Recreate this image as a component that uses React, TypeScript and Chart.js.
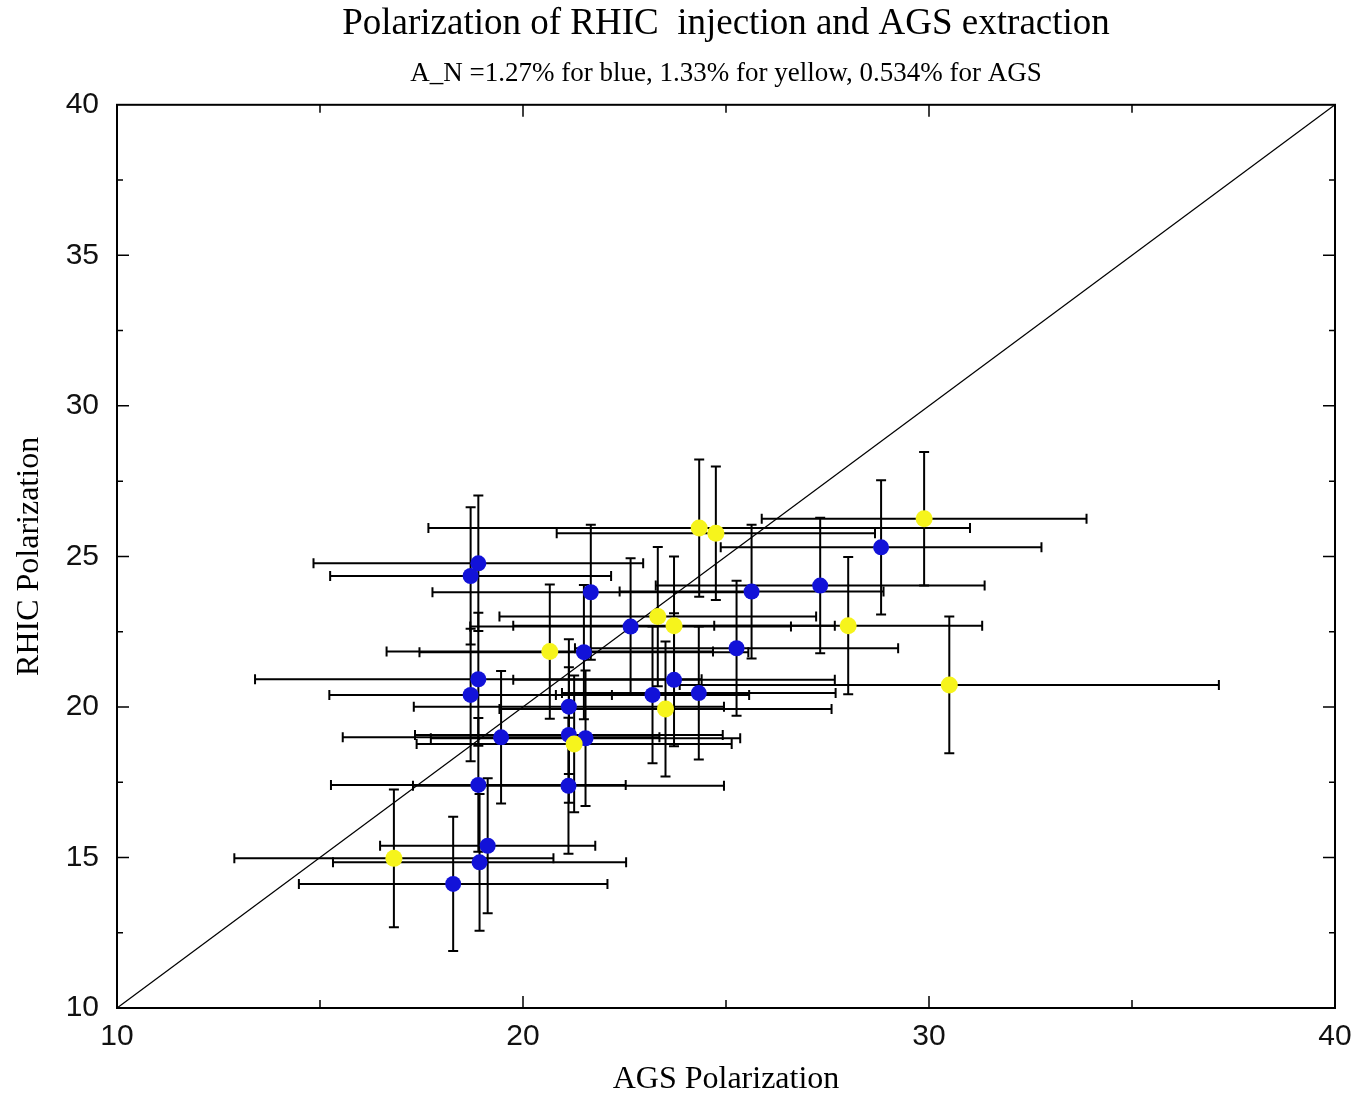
import React, { useEffect, useRef } from "react";
import { Chart, registerables } from "chart.js";

Chart.register(...registerables);

// ---- texts ----
const titleText = "Polarization of RHIC  injection and AGS extraction";
const subtitleText = "A_N =1.27% for blue, 1.33% for yellow, 0.534% for AGS";
const xAxisTitle = "AGS Polarization";
const yAxisTitle = "RHIC Polarization";

// ---- axes ----
const xMin = 10;
const xMax = 40;
const yMin = 10;
const yMax = 40;
const xLabelTicks = [10, 20, 30, 40];
const yLabelTicks = [10, 15, 20, 25, 30, 35, 40];

// ---- blue ring ----
const blueX = [18.9, 18.71, 21.67, 22.65, 21.5, 18.9, 18.71, 23.72, 23.19, 21.13, 19.46, 21.13, 21.54, 18.9, 21.12, 19.13, 18.93, 18.28, 28.82, 25.63, 27.32, 25.26, 24.33];
const blueY = [24.77, 24.35, 23.81, 22.67, 21.82, 20.92, 20.4, 20.9, 20.4, 20.01, 18.99, 19.07, 18.96, 17.41, 17.38, 15.39, 14.84, 14.12, 25.3, 23.83, 24.03, 21.95, 20.46];
const blueXErr = [4.06, 3.46, 3.9, 3.95, 4.05, 5.5, 3.48, 3.96, 2.38, 3.82, 3.9, 3.79, 3.81, 3.63, 3.83, 2.65, 3.61, 3.8, 3.95, 3.25, 4.05, 3.98, 3.37];
const blueYErr = [2.25, 2.28, 2.24, 2.27, 2.23, 2.21, 2.2, 2.21, 2.27, 2.24, 2.2, 2.25, 2.25, 2.22, 2.26, 2.24, 2.27, 2.23, 2.23, 2.22, 2.25, 2.24, 2.21];

// ---- yellow ring ----
const yellowX = [24.34, 24.75, 29.88, 28.01, 23.32, 23.72, 20.66, 23.51, 21.26, 16.82, 30.5];
const yellowY = [25.94, 25.77, 26.25, 22.7, 23.0, 22.7, 21.84, 19.93, 18.77, 14.97, 20.73];
const yellowXErr = [6.67, 3.92, 4.0, 3.3, 3.9, 3.96, 4.02, 4.09, 3.88, 3.93, 6.64];
const yellowYErr = [2.28, 2.22, 2.22, 2.28, 2.31, 2.3, 2.23, 2.24, 2.27, 2.29, 2.27];

// ---- diagonal y = x ----
const diagX = [10, 40];
const diagY = [10, 40];

const toPoints = (xs: number[], ys: number[]) => xs.map((x, i) => ({ x, y: ys[i] }));

const errorBarPlugin = {
  id: "errorBars",
  beforeDatasetsDraw(chart: any) {
    const { ctx, scales } = chart;
    const xs = scales.x;
    const ys = scales.y;
    ctx.save();
    ctx.strokeStyle = "#000";
    ctx.lineWidth = 2;
    const cap = 5;
    chart.data.datasets.forEach((ds: any) => {
      if (!ds.xErr) return;
      ds.data.forEach((p: any, i: number) => {
        const cx = xs.getPixelForValue(p.x);
        const cy = ys.getPixelForValue(p.y);
        const x1 = xs.getPixelForValue(p.x - ds.xErr[i]);
        const x2 = xs.getPixelForValue(p.x + ds.xErr[i]);
        const y1 = ys.getPixelForValue(p.y - ds.yErr[i]);
        const y2 = ys.getPixelForValue(p.y + ds.yErr[i]);
        ctx.beginPath();
        ctx.moveTo(x1, cy);
        ctx.lineTo(x2, cy);
        ctx.moveTo(x1, cy - cap);
        ctx.lineTo(x1, cy + cap);
        ctx.moveTo(x2, cy - cap);
        ctx.lineTo(x2, cy + cap);
        ctx.moveTo(cx, y1);
        ctx.lineTo(cx, y2);
        ctx.moveTo(cx - cap, y1);
        ctx.lineTo(cx + cap, y1);
        ctx.moveTo(cx - cap, y2);
        ctx.lineTo(cx + cap, y2);
        ctx.stroke();
      });
    });
    ctx.restore();
  },
};

const framePlugin = {
  id: "frameTicks",
  afterDatasetsDraw(chart: any) {
    const { ctx, chartArea, scales } = chart;
    const { left, right, top, bottom } = chartArea;
    ctx.save();
    ctx.strokeStyle = "#000";
    ctx.lineWidth = 1.5;
    ctx.beginPath();
    scales.x.ticks.forEach((t: any) => {
      if (t.value <= xMin || t.value >= xMax) return;
      const px = scales.x.getPixelForValue(t.value);
      const len = xLabelTicks.includes(t.value) ? 12 : 8;
      ctx.moveTo(px, bottom);
      ctx.lineTo(px, bottom - len);
      ctx.moveTo(px, top);
      ctx.lineTo(px, top + len);
    });
    scales.y.ticks.forEach((t: any) => {
      if (t.value <= yMin || t.value >= yMax) return;
      const py = scales.y.getPixelForValue(t.value);
      const len = yLabelTicks.includes(t.value) ? 12 : 6;
      ctx.moveTo(left, py);
      ctx.lineTo(left + len, py);
      ctx.moveTo(right, py);
      ctx.lineTo(right - len, py);
    });
    ctx.stroke();
    ctx.lineWidth = 2;
    ctx.strokeRect(left, top, right - left, bottom - top);
    ctx.restore();
  },
};

export default function App() {
  const canvasRef = useRef<HTMLCanvasElement | null>(null);

  useEffect(() => {
    const canvas = canvasRef.current;
    if (!canvas) return;
    const chart = new Chart(canvas, {
      type: "scatter",
      data: {
        datasets: [
          {
            label: "yellow",
            data: toPoints(yellowX, yellowY),
            xErr: yellowXErr,
            yErr: yellowYErr,
            pointRadius: 8.5,
            pointBackgroundColor: "#f6f41c",
            pointBorderWidth: 0,
            borderWidth: 0,
          } as any,
          {
            label: "blue",
            data: toPoints(blueX, blueY),
            xErr: blueXErr,
            yErr: blueYErr,
            pointRadius: 8,
            pointBackgroundColor: "#1212d8",
            pointBorderWidth: 0,
            borderWidth: 0,
          } as any,
          {
            type: "line",
            label: "diagonal",
            data: toPoints(diagX, diagY),
            borderColor: "#000",
            borderWidth: 1.3,
            pointRadius: 0,
            fill: false,
          } as any,
        ],
      },
      options: {
        animation: false,
        responsive: true,
        maintainAspectRatio: false,
        layout: { padding: { top: 0, right: 31, bottom: 0, left: 0 } },
        plugins: {
          legend: { display: false },
          tooltip: { enabled: false },
          title: {
            display: true,
            text: titleText,
            fullSize: false,
            color: "#000",
            font: { family: "'Liberation Serif', serif", size: 37, weight: "normal", lineHeight: 1.2 },
            padding: { top: 2, bottom: 8 },
          },
          subtitle: {
            display: true,
            text: subtitleText,
            fullSize: false,
            color: "#000",
            font: { family: "'Liberation Serif', serif", size: 27, weight: "normal", lineHeight: 1.2 },
            padding: { top: 3, bottom: 15 },
          },
        },
        scales: {
          x: {
            type: "linear",
            min: xMin,
            max: xMax,
            grid: { display: false, drawTicks: false, tickLength: 0 },
            border: { display: false },
            ticks: {
              stepSize: 5,
              padding: 11,
              color: "#111",
              font: { family: "'Liberation Sans', sans-serif", size: 30 },
              callback: (v: any) => (xLabelTicks.includes(Number(v)) ? String(v) : ""),
            },
            title: {
              display: true,
              text: xAxisTitle,
              color: "#000",
              font: { family: "'Liberation Serif', serif", size: 32, lineHeight: 1 },
              padding: { top: 0, bottom: 0 },
            },
            afterFit: (s: any) => {
              s.height = 88;
            },
          },
          y: {
            type: "linear",
            min: yMin,
            max: yMax,
            grid: { display: false, drawTicks: false, tickLength: 0 },
            border: { display: false },
            ticks: {
              stepSize: 2.5,
              padding: 18,
              color: "#111",
              font: { family: "'Liberation Sans', sans-serif", size: 30 },
              callback: (v: any) => (yLabelTicks.includes(Number(v)) ? String(v) : ""),
            },
            title: {
              display: true,
              text: yAxisTitle,
              color: "#000",
              font: { family: "'Liberation Serif', serif", size: 32, lineHeight: 1 },
              padding: { top: 14, bottom: 0 },
            },
            afterFit: (s: any) => {
              s.width = 117;
            },
          },
        },
      },
      plugins: [errorBarPlugin, framePlugin],
    });
    return () => chart.destroy();
  }, []);

  return (
    <div style={{ position: "absolute", left: 0, top: 0, width: 1366, height: 1096, background: "#fff" }}>
      <canvas ref={canvasRef} />
    </div>
  );
}
